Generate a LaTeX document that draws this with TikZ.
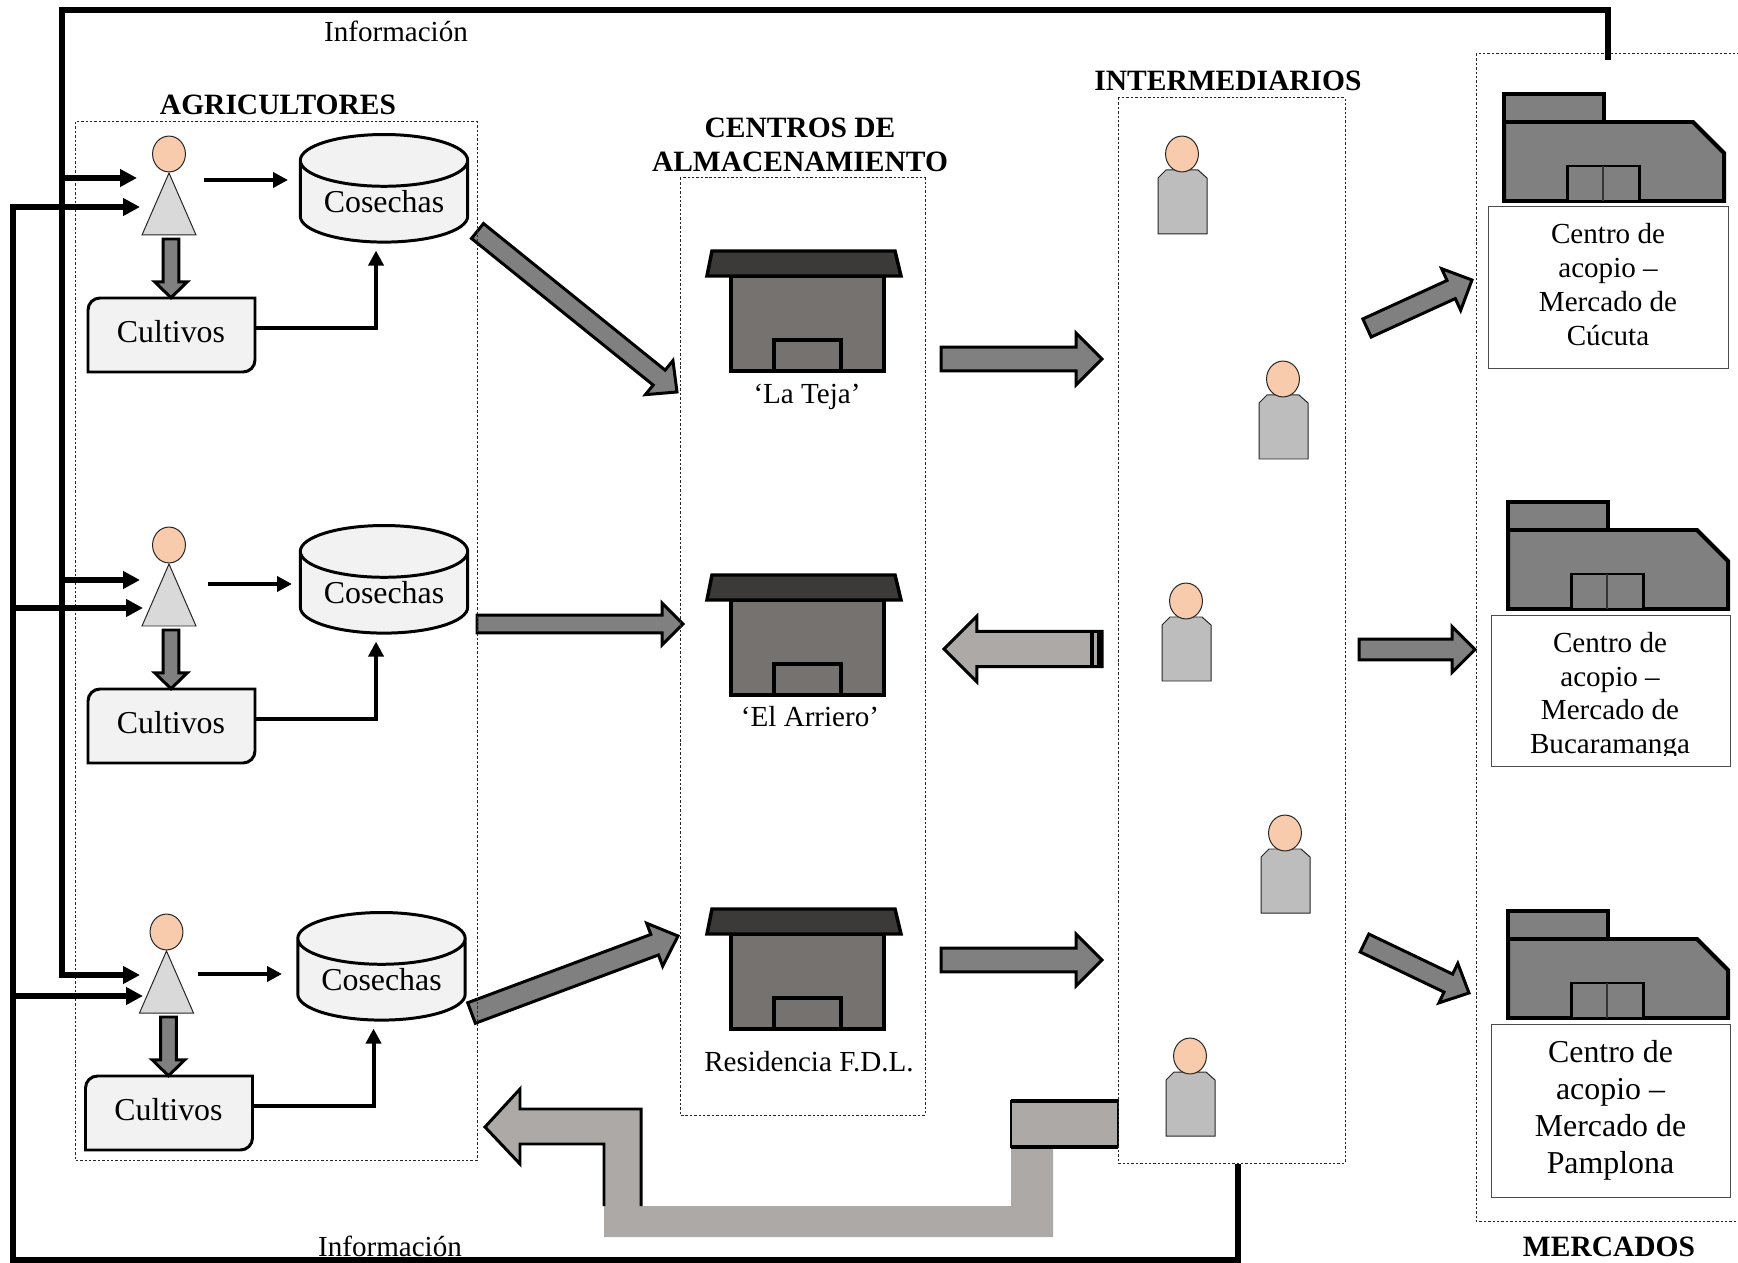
\documentclass[tikz,border=0pt]{standalone}
\usepackage{fontspec}
\setmainfont{Liberation Serif}
\usetikzlibrary{shapes.geometric, arrows.meta, calc, positioning}
\tikzset{>=latex}
\definecolor{piel}{HTML}{F8CBAD}
\definecolor{grisclaro}{HTML}{F2F2F2}
\definecolor{grisbloque}{HTML}{808080}
\definecolor{grisvuelta}{HTML}{ADA9A7}
\definecolor{grismuro}{HTML}{767270}
\definecolor{gristecho}{HTML}{3B3A38}
\tikzset{
  zona/.style={draw=black!85, line width=0.5pt, dash pattern=on 1.2pt off 1pt},
  titulo/.style={font=\fontsize{14.8}{17}\selectfont\bfseries, align=center, inner sep=0},
  etiq/.style={font=\fontsize{14.6}{17}\selectfont, align=center, inner sep=0},
  etiqg/.style={font=\fontsize{16}{18.6}\selectfont, align=center, inner sep=0},
  cabeza/.style={ellipse, draw=black!85, line width=0.5pt, fill=piel, minimum width=16.5pt, minimum height=18pt, inner sep=0},
  deposito/.style={cylinder, shape border rotate=90, aspect=0.43, draw=black, line width=1.5pt,
    cylinder uses custom fill, cylinder body fill=grisclaro, cylinder end fill=grisclaro,
    minimum width=84pt, minimum height=54pt, inner sep=0, font=\fontsize{16}{18.6}\selectfont},
  info/.style={-{Triangle[length=8.5pt,width=8.5pt]}, line width=2.6pt},
  flecha/.style={-{Triangle[length=7.5pt,width=7.5pt]}, line width=2pt},
  bloque/.style={draw=black, line width=1.5pt, fill=grisbloque},
  grueso/.style n args={3}{to path={
    ($(\tikztostart)!#1pt!90:(\tikztotarget)$)
    -- ($($(\tikztotarget)!#3pt!(\tikztostart)$)!#1pt!90:(\tikztotarget)$)
    -- ($($(\tikztotarget)!#3pt!(\tikztostart)$)!#2pt!90:(\tikztotarget)$)
    -- (\tikztotarget)
    -- ($($(\tikztotarget)!#3pt!(\tikztostart)$)!#2pt!-90:(\tikztotarget)$)
    -- ($($(\tikztotarget)!#3pt!(\tikztostart)$)!#1pt!-90:(\tikztotarget)$)
    -- ($(\tikztostart)!#1pt!-90:(\tikztotarget)$) -- cycle}}
}

\begin{document}
\begin{tikzpicture}[x=0.5bp, y=-0.5bp]
\useasboundingbox (0,0) rectangle (1738,1263);

% Agricultores: persona, cosechas y cultivos
\foreach \fila/\dx/\dy/\xp/\yp/\ya/\ta/\yb in {
    1/0/0/204/180/178/137/207,
    2/0/391/208/584/580/140/608,
    3/-2.5/778/198/974/975/140/996} {
  \begin{scope}[shift={(\dx,\dy)}]
    \draw[draw=black!85, line width=0.5pt, fill=black!15] (169,173) -- (142,235) -- (196,235) -- cycle;
    \node[cabeza] (agr\fila) at (169,154) {};
    \coordinate (bajo\fila) at (171,239);
    \node[deposito] (cos\fila) at (384,202) {Cosechas};
    \draw[line width=1.5pt, fill=grisclaro] (88,372) [rounded corners=6pt] -- (88,298) [sharp corners] -- (255,298) [rounded corners=6pt] -- (255,372) [sharp corners] -- cycle;
    \node[etiqg, minimum width=83.5pt, minimum height=34pt] (cul\fila) at (171,332) {Cultivos};
  \end{scope}
  \coordinate (sal\fila) at (\xp,\yp);
  \coordinate (ent\fila) at (\xp+84,\yp);
  \coordinate (fa\fila) at (\ta,\ya);
  \coordinate (fb\fila) at (\ta+3,\yb);
  \draw[flecha] (sal\fila) -- (ent\fila);
  \draw[bloque, grueso={3.9}{8.2}{8}] (bajo\fila) to (cul\fila.north);
  \draw[flecha] ([yshift=2pt]cul\fila.east) -| ([xshift=-4pt,yshift=-3.5pt]cos\fila.south);
}

% Centros de almacenamiento
\foreach \casa/\dy in {1/0, 2/324, 3/658} {
  \begin{scope}[yshift=-\dy*0.5bp]
    \draw[line width=1.75pt, fill=grismuro] (731,276) rectangle (884,371);
    \draw[line width=1.75pt, fill=grismuro] (774,340) rectangle (841,371);
    \draw[line width=1.75pt, fill=gristecho] (707,276) -- (712,251) -- (895,251) -- (901,276) -- cycle;
  \end{scope}
}
\node[etiq] (teja) at (807,397) {‘La Teja’};
\node[etiq] (arriero) at (810,717) {‘El Arriero’};
\node[etiq] (residencia) at (809,1062) {Residencia F.D.L.};

% Intermediarios
\foreach \per/\xc/\yc in {1/1182/154, 2/1283/379, 3/1186/601, 4/1285/833, 5/1190/1056} {
  \begin{scope}[shift={(\xc,\yc)}]
    \draw[draw=black!85, line width=0.5pt, fill=black!26] (-24,80) -- (-24,24) -- (-16,16) -- (16,16) -- (25,24) -- (25,80) -- cycle;
    \node[cabeza] (int\per) at (0,0) {};
  \end{scope}
}

% Mercados
\foreach \mer/\dx/\dy in {1/0/0, 2/4/408, 3/4/817} {
  \begin{scope}[shift={(\dx,\dy)}]
    \draw[line width=2pt, fill=grisbloque] (1504,122) -- (1504,94) -- (1604,94) -- (1604,122);
    \draw[line width=2pt, fill=grisbloque] (1504,122) -- (1693,122) -- (1724,153) -- (1724,201) -- (1504,201) -- cycle;
    \draw[line width=1.5pt, fill=grisbloque] (1567,166) rectangle (1639,201);
    \draw[line width=0.8pt, black!80] (1603,166) -- (1603,201);
  \end{scope}
}
\node[draw=black!70, line width=0.5pt, etiq, minimum width=120bp, minimum height=80.5bp, text depth=3pt] (cucuta) at (1608,287.5) {Centro de\\acopio –\\Mercado de\\Cúcuta};
\begin{scope}
  \clip (1491,615) rectangle (1730,755);
  \node[etiq] (buca) at (1610,696) {Centro de\\acopio –\\Mercado de\\Bucaramanga};
\end{scope}
\draw[draw=black!70, line width=0.5pt] (1491,615) rectangle (1730,766);
\node[draw=black!70, line width=0.5pt, etiqg, minimum width=119.5bp, minimum height=86.5bp] (pamplona) at (1610.5,1110.5) {Centro de\\acopio –\\Mercado de\\Pamplona};

% Flechas gruesas
\coordinate (s1) at (477.5,231);
\coordinate (t1) at (677,392);
\coordinate (s2) at (477,624);
\coordinate (t2) at (683,624);
\coordinate (s3) at (471.5,1013);
\coordinate (t3) at (678,936);
\coordinate (s4) at (941,359);
\coordinate (t4) at (1102,359);
\coordinate (s5) at (1102,649);
\coordinate (t5) at (944,649);
\coordinate (s6) at (941,960);
\coordinate (t6) at (1102,960);
\coordinate (s7) at (1367,328);
\coordinate (t7) at (1472,280);
\coordinate (s8) at (1359,649.5);
\coordinate (t8) at (1475,649.5);
\coordinate (s9) at (1364.5,943);
\coordinate (t9) at (1469,993);
\draw[bloque, grueso={4.8}{11}{11.5}] (s1) to (t1);
\draw[bloque, grueso={4.5}{10.5}{10.5}] (s2) to (t2);
\draw[bloque, grueso={5.5}{11.5}{12.5}] (s3) to (t3);
\draw[bloque, grueso={6}{13}{13}] (s4) to (t4);
\draw[bloque, fill=grisvuelta, grueso={8.8}{16.5}{16.5}] (s5) to (t5);
\draw[bloque, grueso={6}{13}{13}] (s6) to (t6);
\draw[bloque, grueso={5}{11.5}{11.5}] (s7) to (t7);
\draw[bloque, grueso={5.2}{11.5}{11.5}] (s8) to (t8);
\draw[bloque, grueso={5}{11}{11.5}] (s9) to (t9);
\draw[line width=2.5pt] (1099.5,630) -- (1099.5,668);
\draw[line width=2pt] (1092,630) -- (1092,668);

% Flecha de regreso
\fill[grisvuelta] (1011,1147) -- (1011,1206) -- (641,1206) -- (641,1109) -- (520,1109) -- (520,1089) -- (485,1127) -- (520,1164) -- (520,1144) -- (604,1144) -- (604,1237) -- (1053,1237) -- (1053,1147) -- cycle;
\draw[line width=1.5pt] (604,1206) -- (604,1144) -- (520,1144) -- (520,1164) -- (485,1127) -- (520,1089) -- (520,1109) -- (641,1109) -- (641,1206);
\draw[line width=0.7pt, fill=grisvuelta] (1011,1101) rectangle (1118,1147);
\draw[line width=1.6pt] (1011,1101) -- (1118,1101) (1011,1147) -- (1118,1147);

% Zonas punteadas
\draw[zona] (75,122) rectangle (477,1160);
\draw[zona] (680,178) rectangle (925,1115);
\draw[zona] (1118,98) rectangle (1345,1163);
\draw[zona] (1476,54) rectangle (1745,1221);

% Lineas de informacion
\coordinate (mertop) at (1608,60);
\coordinate (izq) at (62,10);
\coordinate (intbajo) at (1238,1164);
\coordinate (der) at (13,1260);
\draw[info, line width=3pt] (mertop) |- (izq) -- (izq |- fa3) -- (fa3);
\draw[info, line width=3pt] (intbajo) |- (der) -- (der |- fb1) -- (fb1);
\draw[info] (izq |- fa1) -- (fa1);
\draw[info] (izq |- fa2) -- (fa2);
\draw[info] (der |- fb2) -- (fb2);
\draw[info] (der |- fb3) -- (fb3);

% Textos
\node[etiq] (infoarr) at (396,31) {Información};
\node[etiq] (infoaba) at (390,1246) {Información};
\node[titulo] (agr) at (278,105) {AGRICULTORES};
\node[titulo] (alm) at (800,145) {CENTROS DE\\ALMACENAMIENTO};
\node[titulo] (inter) at (1228,81) {INTERMEDIARIOS};
\node[titulo] (merc) at (1609,1247) {MERCADOS};

\end{tikzpicture}
\end{document}
